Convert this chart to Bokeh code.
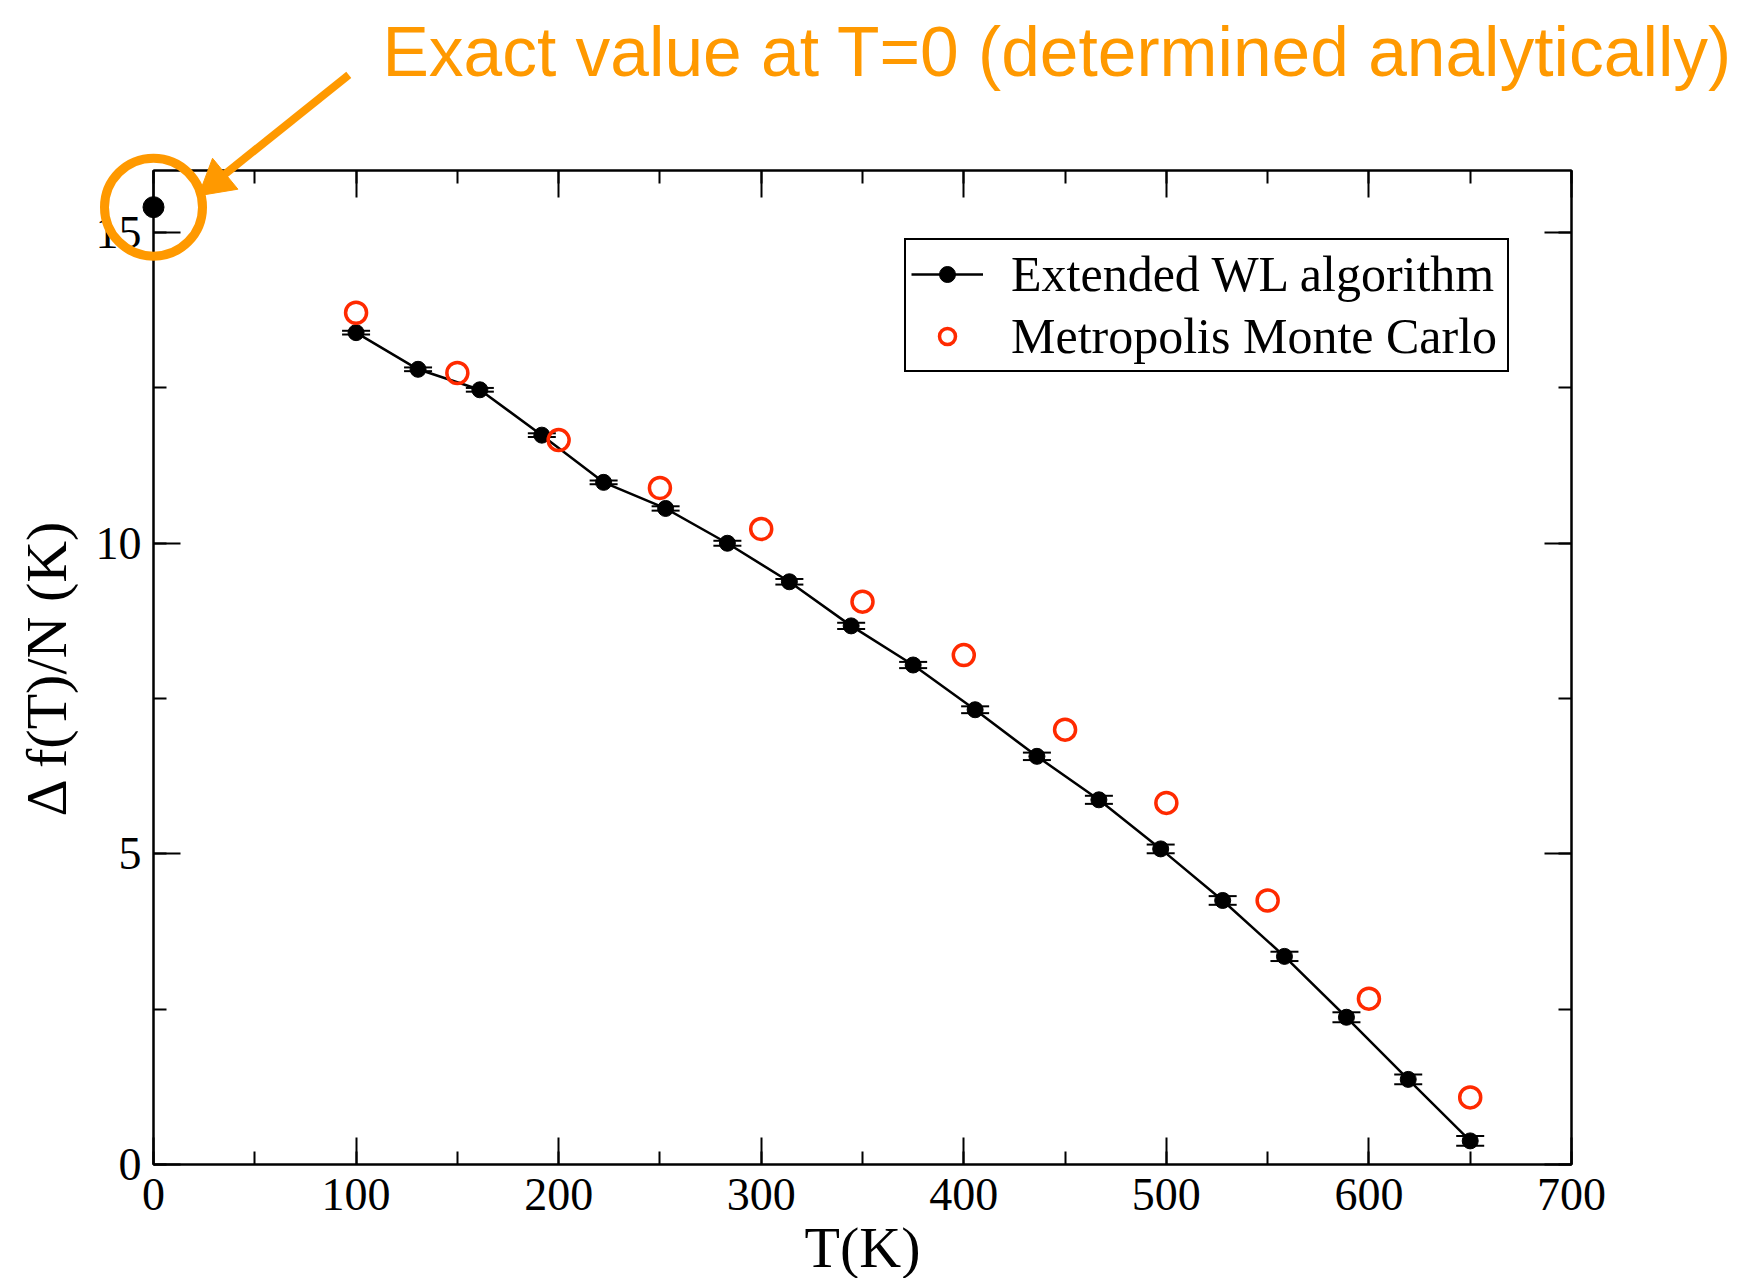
from bokeh.plotting import figure
from bokeh.models import (Range1d, LinearAxis, SingleIntervalTicker, Whisker, TeeHead,
                          Legend, LegendItem, ColumnDataSource, CustomJSTickFormatter)
from bokeh.core.properties import value
from bokeh.embed import file_html
from bokeh.resources import INLINE

# Free-energy difference per particle, extended Wang-Landau sampling
wl_T = [100.0, 130.6, 161.1, 191.7, 222.2, 252.8, 283.3, 313.9, 344.4, 375.0,
        405.6, 436.1, 466.7, 497.2, 527.8, 558.3, 588.9, 619.4, 650.0]
wl_df = [13.39, 12.80, 12.47, 11.74, 10.98, 10.56, 10.00, 9.38, 8.67, 8.04,
         7.32, 6.57, 5.87, 5.08, 4.25, 3.35, 2.37, 1.37, 0.38]
wl_err = [0.03, 0.03, 0.03, 0.03, 0.03, 0.035, 0.04, 0.045, 0.05, 0.05,
          0.055, 0.06, 0.065, 0.07, 0.07, 0.075, 0.08, 0.08, 0.08]

# Metropolis Monte Carlo reference values
mc_T = [100, 150, 200, 250, 300, 350, 400, 450, 500, 550, 600, 650]
mc_df = [13.71, 12.74, 11.66, 10.89, 10.23, 9.06, 8.20, 7.00, 5.82, 4.25, 2.67, 1.08]

# Analytic ground-state value
exact_T = [0.0]
exact_df = [15.41]

annotation_text = ["Exact value at T=0 (determined analytically)"]

# call-out placement (data units, above the frame)
note_xy = (113, 17.9)
arrow_tail = (96.4, 17.54)
arrow_head = (31.0, 15.83)
arrow_angle = 2.258

SERIF = "Liberation Serif"
NOTE_FONT = "Liberation Sans"
ORANGE = "#ff9900"
RED = "#ff2a00"

p = figure(frame_width=1418, frame_height=994,
           min_border_left=153, min_border_right=175,
           min_border_top=170, min_border_bottom=114,
           x_range=Range1d(0, 700), y_range=Range1d(0, 16),
           output_backend="svg", toolbar_location=None)
p.xgrid.visible = False
p.ygrid.visible = False
p.outline_line_color = "black"
p.outline_line_width = 2
p.outline_line_alpha = 1.0
p.background_fill_color = "white"
p.border_fill_color = "white"

x_ticker = SingleIntervalTicker(interval=100, num_minor_ticks=2)
y_ticker = SingleIntervalTicker(interval=5, num_minor_ticks=2)
p.xaxis.ticker = x_ticker
p.yaxis.ticker = y_ticker


def style_axis(ax):
    ax.axis_line_color = "black"
    ax.axis_line_width = 2
    ax.major_tick_line_width = 2
    ax.minor_tick_line_width = 2
    ax.major_tick_in = 27
    ax.major_tick_out = 0
    ax.minor_tick_in = 13
    ax.minor_tick_out = 0
    ax.major_label_text_font = SERIF
    ax.major_label_text_font_size = "46px"
    ax.major_label_text_color = "black"
    ax.axis_label_text_font = SERIF
    ax.axis_label_text_font_size = "58px"
    ax.axis_label_text_font_style = "normal"
    ax.axis_label_text_color = "black"


for ax in (p.xaxis[0], p.yaxis[0]):
    style_axis(ax)

p.xaxis.axis_label = "T(K)"
p.xaxis.major_label_standoff = 14
p.xaxis.axis_label_standoff = 2
p.yaxis.axis_label = "\u0394 f(T)/N (K)"
p.yaxis.major_label_standoff = 12
p.yaxis.axis_label_standoff = 14

# mirrored tick marks on the top and right edges
blank = CustomJSTickFormatter(code="return ''")
top_ax = LinearAxis(ticker=x_ticker, formatter=blank)
right_ax = LinearAxis(ticker=y_ticker, formatter=blank)
for ax in (top_ax, right_ax):
    style_axis(ax)
    ax.major_label_standoff = 0
    ax.major_label_text_font_size = "1px"
p.add_layout(top_ax, "above")
p.add_layout(right_ax, "right")

# Wang-Landau curve with error bars
wl_src = ColumnDataSource(dict(
    T=wl_T, df=wl_df,
    lo=[v - e for v, e in zip(wl_df, wl_err)],
    hi=[v + e for v, e in zip(wl_df, wl_err)],
))
wl_line = p.line("T", "df", source=wl_src, line_color="black", line_width=2.5)
wl_dots = p.scatter("T", "df", source=wl_src, size=16, marker="circle",
                    fill_color="black", line_color="black")
p.add_layout(Whisker(base="T", lower="lo", upper="hi", source=wl_src,
                     line_color="black", line_width=2,
                     lower_head=TeeHead(size=28, line_width=2, line_color="black"),
                     upper_head=TeeHead(size=28, line_width=2, line_color="black")))

# Metropolis points
mc_pts = p.scatter(mc_T, mc_df, size=21, marker="circle", fill_color=None,
                   line_color=RED, line_width=3.5)

# exact T=0 value, highlighted with a ring; overlay level keeps these
# from being cut at the frame edge
p.scatter(exact_T, exact_df, size=21, marker="circle", fill_color="black",
          line_color="black", level="overlay")
p.scatter(exact_T, exact_df, size=98, marker="circle", fill_color=None,
          line_color=ORANGE, line_width=9, level="overlay")

# call-out arrow and text
p.segment(x0=[arrow_tail[0]], y0=[arrow_tail[1]], x1=[arrow_head[0]], y1=[arrow_head[1]],
          line_color=ORANGE, line_width=8, level="overlay")
p.scatter(x=[arrow_head[0]], y=[arrow_head[1]], marker="triangle", size=40,
          angle=arrow_angle, fill_color=ORANGE, line_color=ORANGE, level="overlay")
p.text(x=[note_xy[0]], y=[note_xy[1]], text=annotation_text,
       text_font=value(NOTE_FONT), text_font_size=value("69.5px"),
       text_color=ORANGE, text_baseline="alphabetic", text_align="left",
       level="overlay")

legend = Legend(items=[
    LegendItem(label="Extended WL algorithm", renderers=[wl_line, wl_dots]),
    LegendItem(label="Metropolis Monte Carlo", renderers=[mc_pts]),
], location=(751, 792), margin=0, padding=5, spacing=4,
    glyph_width=72, glyph_height=40, label_height=40, label_standoff=28,
    label_width=491,
    label_text_font=SERIF, label_text_font_size="50px", label_text_color="black",
    border_line_color="black", border_line_width=2, border_line_alpha=1.0,
    background_fill_color="white", background_fill_alpha=1.0)
p.add_layout(legend)

open("out.html", "w").write(file_html(p, INLINE))
